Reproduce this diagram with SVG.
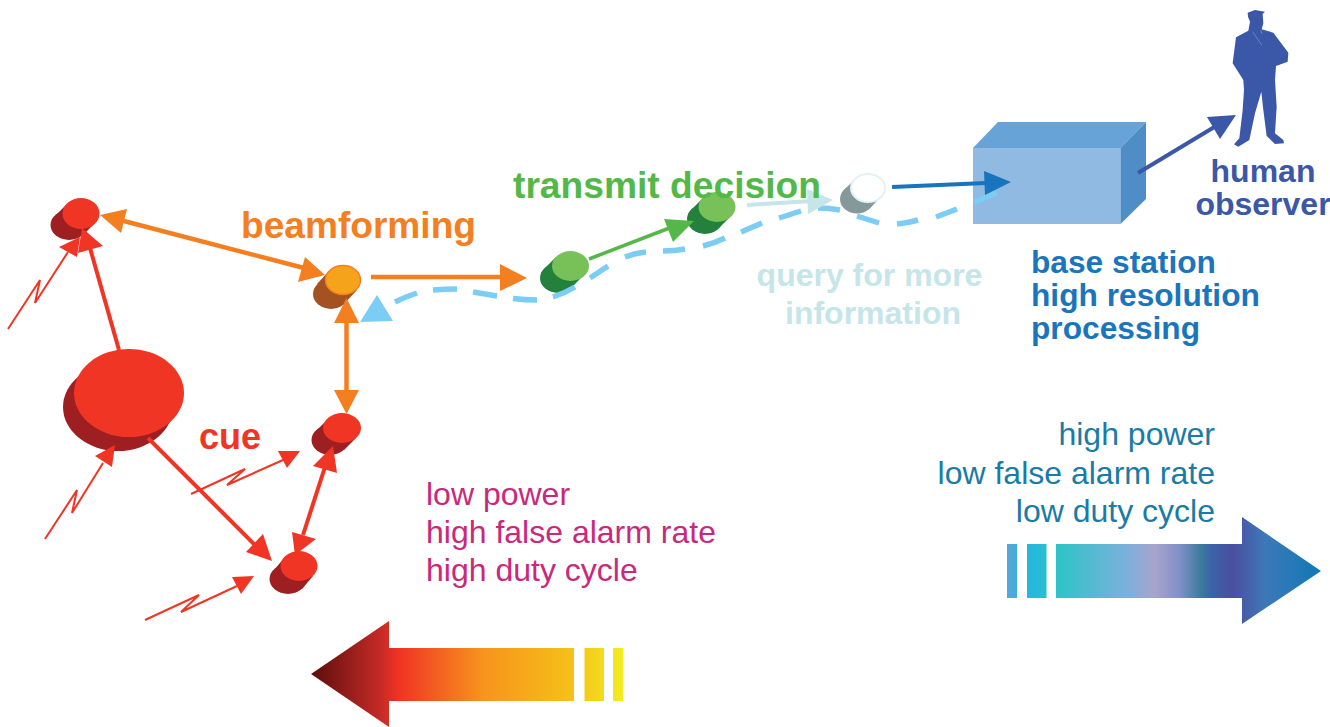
<svg xmlns="http://www.w3.org/2000/svg" width="1330" height="727" viewBox="0 0 1330 727">
<style>
text{font-family:"Liberation Sans",Arial,sans-serif}
.b{font-weight:bold}
.red{fill:#f03524}.dred{fill:#9e1f22}
.org{fill:#f47f20}.or{stroke:#f47f20;stroke-width:4.5;fill:none}
.rd{stroke:#f03524;stroke-width:4;fill:none}
.zig{stroke:#f03524;stroke-width:2;fill:none;stroke-linejoin:miter}
.gr{fill:#53b848}.pale{fill:#c5e5e9}
.mg{fill:#c9297b;font-size:32px}
.tl{fill:#1a7ba6;font-size:32px;text-anchor:end}
</style>
<defs>
<linearGradient id="gh" gradientUnits="userSpaceOnUse" x1="311" y1="0" x2="624" y2="0">
<stop offset="0" stop-color="#5a0e0c"/><stop offset=".22" stop-color="#c42a26"/><stop offset=".28" stop-color="#f03324"/><stop offset=".55" stop-color="#f7941d"/><stop offset=".85" stop-color="#f5c318"/><stop offset="1" stop-color="#f2ee22"/>
</linearGradient>
<linearGradient id="gc" gradientUnits="userSpaceOnUse" x1="1007" y1="0" x2="1321" y2="0">
<stop offset="0" stop-color="#5ba5da"/><stop offset=".07" stop-color="#22b8dc"/><stop offset=".17" stop-color="#2fc4c6"/><stop offset=".38" stop-color="#7bb0dc"/><stop offset=".47" stop-color="#a8a4cc"/><stop offset=".55" stop-color="#8090c8"/><stop offset=".62" stop-color="#3a7a9a"/><stop offset=".65" stop-color="#3b63a8"/><stop offset=".72" stop-color="#4a4fa0"/><stop offset=".82" stop-color="#3d78b8"/><stop offset="1" stop-color="#1078b6"/>
</linearGradient>
</defs>

<g id="low-power-arrow" fill="url(#gh)">
<polygon points="311,674 389,621 389,648 574,648 574,701 389,701 389,727"/>
<rect x="584.500" y="648" width="19.500" height="53"/>
<rect x="613" y="648" width="10" height="53"/>
</g>
<g id="high-power-arrow" fill="url(#gc)">
<rect x="1007" y="544" width="10" height="54"/>
<rect x="1027" y="544" width="19.500" height="54"/>
<polygon points="1056,544 1242,544 1242,517 1321,571 1242,624 1242,598 1056,598"/>
</g>

<g id="base-station">
<rect x="973" y="148" width="147.500" height="76" fill="#90bae2"/>
<polygon points="973,148 998,122 1146,122 1120.500,148" fill="#68a3d8"/>
<polygon points="1120.500,148 1146,122 1146,199 1120.500,224" fill="#4f8dc7"/>
</g>

<g id="human-observer">
<path transform="translate(1220 0) scale(.3333)" fill="#3a57a8" d="M83,38 L105,30 L135,35 L128,42 L130,70 L125,88 L160,98 L205,158 L203,185 L168,198 L165,240 L170,320 L165,400 L190,420 L192,430 L165,432 L140,408 L130,330 L124,275 L105,340 L88,420 L55,440 L42,433 L58,415 L68,330 L72,270 L70,240 L38,190 L48,112 L85,92 L90,65 L84,50 Z"/>
<path transform="translate(1220 0) scale(.3333)" fill="none" stroke="#7f95cc" stroke-width="2" d="M98,95 L125,135 M122,90 L126,102"/>
</g>

<g id="node-red-1">
<polygon class="dred" points="67,204 95,223 83,235 55,216"/>
<ellipse class="dred" cx="69" cy="225" rx="18.500" ry="15"/>
<ellipse class="red" cx="81" cy="213.500" rx="18.500" ry="15.500"/>
</g>
<g id="node-big">
<ellipse class="dred" cx="118" cy="407" rx="55" ry="44"/>
<ellipse class="red" cx="129" cy="393" rx="55" ry="44"/>
</g>
<g id="node-red-2">
<polygon class="dred" points="328,419 356,438 344,450 316,431"/>
<ellipse class="dred" cx="330" cy="440" rx="18.500" ry="15"/>
<ellipse class="red" cx="342" cy="428" rx="19" ry="15"/>
</g>
<g id="node-red-3">
<polygon class="dred" points="285,557 313,576 302,589 274,570"/>
<ellipse class="dred" cx="288" cy="579" rx="18.500" ry="15"/>
<ellipse class="red" cx="299" cy="566" rx="18.500" ry="15"/>
</g>
<g id="node-orange">
<polygon fill="#a55222" points="329,271 357,290 345,303 317,284"/>
<ellipse fill="#a55222" cx="331" cy="294" rx="18" ry="15"/>
<ellipse fill="#f5a31a" stroke="#f47f20" stroke-width="1.500" cx="343" cy="280" rx="17.500" ry="14.500"/>
</g>
<g id="node-green-1">
<polygon fill="#23813d" points="556,257 584,275 572,287 544,269"/>
<ellipse fill="#23813d" cx="558" cy="278" rx="18" ry="15"/>
<ellipse fill="#78c158" cx="570.500" cy="266" rx="18.500" ry="15"/>
</g>
<g id="node-green-2">
<polygon fill="#23813d" points="703,198 731,216 719,228 691,210"/>
<ellipse fill="#23813d" cx="705" cy="219" rx="18" ry="15"/>
<ellipse fill="#78c158" cx="717" cy="207" rx="18.500" ry="15"/>
</g>
<g id="node-white">
<polygon fill="#85999b" points="855,179 881,197 870,208 844,190"/>
<ellipse fill="#85999b" cx="857" cy="199" rx="17" ry="14.500"/>
<ellipse fill="#fff" stroke="#e2f2f7" stroke-width="2" cx="868" cy="188" rx="17" ry="14"/>
</g>

<g id="connectors">
<path fill="none" stroke="#7bcdf5" stroke-width="5.500" d="M395,302 Q405,297 417,293 M433,290 Q445,289 457,289 M473,292 L497,296 M513,298.500 Q525,300 537,300 M553,297 Q565,293 575,287 M590,278 L608,266 M625,257 Q635,253 646,252 M663,251 Q675,251 685,249 M703,246 Q715,243 725,238 M741,232 L762,223 M779,218 L801,211 M818,208 Q830,208 840,210 M857,216 L879,223 M897,224 Q908,223 918,220 M936,217 L957,209 M974,202 L997,193"/>
<polygon points="360,322 377,295 393,321" fill="#7bcdf5"/>

<line class="or" x1="120" y1="220" x2="304" y2="268"/>
<polygon class="org" points="100,215 127,209 121,233"/>
<polygon class="org" points="325,275 305,257 298,282"/>
<line class="or" x1="346.500" y1="320" x2="346.500" y2="392"/>
<polygon class="org" points="346.500,298 334,323 359,323"/>
<polygon class="org" points="346.500,414 334,390 359,390"/>
<line class="or" x1="371" y1="277" x2="502" y2="277"/>
<polygon class="org" points="500,264 527,278 500,291"/>

<line class="rd" x1="119" y1="350" x2="90" y2="248"/>
<polygon class="red" points="82,228 78,253 103,246"/>
<line class="rd" x1="148" y1="438" x2="257" y2="547"/>
<polygon class="red" points="272,561 263,534 246,552"/>
<line class="rd" x1="325" y1="467" x2="303" y2="535"/>
<polygon class="red" points="333,446 313,466 337,473"/>
<polygon class="red" points="295,555 292,532 316,539"/>

<polyline class="zig" points="8,329 40,280 35,303 68,252"/>
<polygon class="red" points="59,247 80,237 77,257"/>
<polyline class="zig" points="45,539 77,490 72,513 103,463"/>
<polygon class="red" points="95,456 115,445 112,467"/>
<polyline class="zig" points="191,494 245,469 227,485 283,460"/>
<polygon class="red" points="278,451 300,451 287,468"/>
<polyline class="zig" points="145,620 199,595 181,612 237,586"/>
<polygon class="red" points="232,577 254,576 241,594"/>

<line x1="589" y1="259" x2="672" y2="227" stroke="#53b848" stroke-width="3.500"/>
<polygon class="gr" points="664,219 694,221 673,242"/>
<line x1="747" y1="205" x2="812" y2="201" stroke="#c5e5e9" stroke-width="4"/>
<polygon class="pale" points="807,189 833,200 808,214"/>
<line x1="892" y1="187" x2="986" y2="183" stroke="#1874bd" stroke-width="4"/>
<polygon fill="#1874bd" points="984,171 1011,182 985,195"/>
<line x1="1138" y1="173" x2="1216" y2="126" stroke="#3a57a8" stroke-width="4"/>
<polygon fill="#3a57a8" points="1236,115 1207,117 1220,139"/>
</g>

<g id="labels">
<text class="b" x="241" y="238" font-size="36" fill="#f47f20" textLength="235" lengthAdjust="spacingAndGlyphs">beamforming</text>
<text class="b" x="513" y="198" font-size="37" fill="#53b848" textLength="308" lengthAdjust="spacingAndGlyphs">transmit decision</text>
<text class="b" x="199" y="449" font-size="36" fill="#f03524">cue</text>
<text class="b pale" x="869.500" y="286" font-size="32" text-anchor="middle">query for more</text>
<text class="b pale" x="873" y="324" font-size="32" text-anchor="middle">information</text>
<text class="b" x="1263" y="182" font-size="32" fill="#3a57a8" text-anchor="middle">human</text>
<text class="b" x="1263" y="215" font-size="32" fill="#3a57a8" text-anchor="middle">observer</text>
<text class="b" x="1031" y="272.500" font-size="31.700" fill="#1b75bc">base station</text>
<text class="b" x="1031" y="305.500" font-size="31.700" fill="#1b75bc">high resolution</text>
<text class="b" x="1031" y="339" font-size="31.700" fill="#1b75bc">processing</text>
<text class="tl" x="1215" y="445">high power</text>
<text class="tl" x="1215" y="484">low false alarm rate</text>
<text class="tl" x="1215" y="522">low duty cycle</text>
<text class="mg" x="426" y="505">low power</text>
<text class="mg" x="426" y="543">high false alarm rate</text>
<text class="mg" x="426" y="581">high duty cycle</text>
</g>
</svg>
